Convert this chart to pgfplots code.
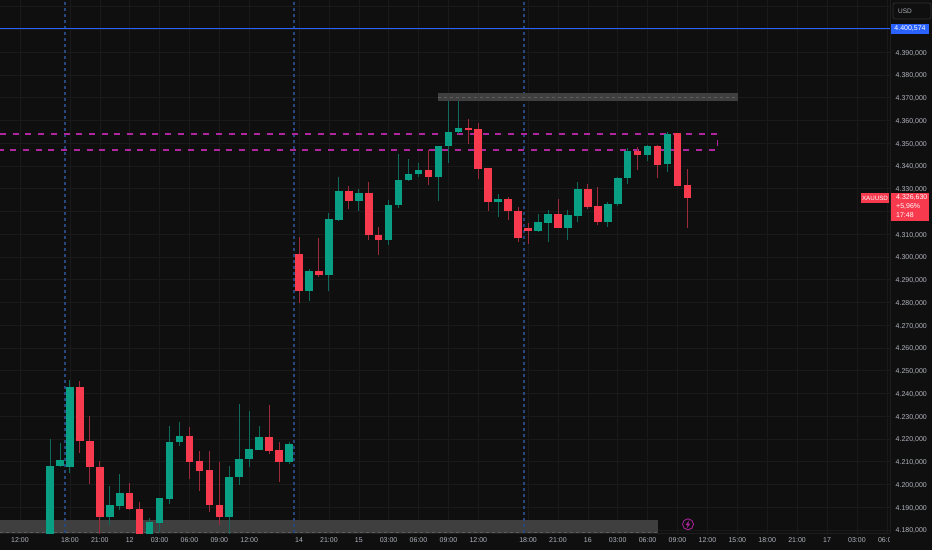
\documentclass[border=0pt]{standalone}
\usepackage{fontspec}
\setmainfont{Liberation Sans}
\usepackage{pgfplots}
\usepackage{pgfplotstable}
\pgfplotsset{compat=1.18}
\definecolor{bg}{HTML}{0F0F0F}
\definecolor{gridc}{HTML}{1A1A1A}
\definecolor{axc}{HTML}{1E1E1E}
\definecolor{tagb}{HTML}{303030}
\definecolor{lab}{HTML}{B2B5BE}
\definecolor{cg}{HTML}{089F85}
\definecolor{cr}{HTML}{F73A4E}
\definecolor{wg}{HTML}{0E6B5C}
\definecolor{wr}{HTML}{9C2A3A}
\definecolor{blue1}{HTML}{2962FF}
\definecolor{blued}{HTML}{26487F}
\definecolor{mag}{HTML}{B0269F}
\definecolor{boxc}{HTML}{3F3F3F}
\definecolor{boxd}{HTML}{5E5E5E}
\pgfplotstableread{
x high top bot low
50 4219.85 4208.28 4170 4165
59.96 4218.10 4210.62 4208.13 4207.55
69.92 4245.93 4243.00 4207.69 4204.91
109.76 4199.49 4191.00 4185.71 4182.20
119.72 4204.62 4196.41 4190.40 4188.79
149.6 4185.13 4183.52 4172 4171
159.56 4193.92 4193.92 4183.22 4179.12
169.52 4225.71 4218.83 4193.77 4191.43
179.48 4227.62 4221.32 4218.68 4216.92
229.28 4208.13 4203.30 4185.71 4176
239.24 4235.38 4211.36 4203.15 4199.78
249.2 4232.45 4215.46 4211.21 4207.55
259.16 4225.86 4220.73 4215.31 4215.17
289.04 4218.83 4217.95 4209.89 4209.01
308.96 4294.72 4293.84 4284.91 4280.66
328.88 4319.19 4316.55 4291.94 4284.91
338.84 4335.31 4329.15 4316.11 4315.82
358.76 4330.03 4328.13 4324.61 4320.36
388.64 4325.05 4322.85 4307.62 4305.13
398.6 4345.27 4333.84 4322.71 4321.54
408.56 4343.07 4336.48 4333.70 4333.55
418.52 4341.46 4338.09 4336.48 4335.31
438.44 4348.93 4348.93 4335.16 4324.61
448.4 4369.01 4354.94 4348.64 4341.17
458.36 4369.45 4356.70 4354.79 4353.91
498.2 4327.54 4325.34 4324.32 4317.72
538.04 4318.90 4315.38 4311.57 4311.13
548 4320.51 4318.90 4315.09 4306.59
567.92 4320.51 4318.46 4312.89 4307.47
577.88 4332.96 4330.03 4318.16 4315.23
607.76 4324.17 4323.29 4315.23 4313.33
617.72 4335.31 4334.72 4323.44 4322.56
627.68 4347.76 4346.59 4334.57 4332.23
647.6 4349.08 4348.79 4344.83 4342.19
667.52 4354.79 4354.21 4340.73 4337.36
}\greentab
\pgfplotstableread{
x high top bot low
79.88 4245.49 4243.00 4218.97 4213.70
89.84 4230.11 4219.12 4207.69 4200.37
99.8 4210.33 4207.69 4185.71 4175
129.68 4200.66 4196.41 4189.09 4188.79
139.64 4192.31 4189.09 4172 4171
189.44 4225.13 4221.32 4210.04 4202.27
199.4 4214.73 4210.19 4205.94 4197.00
209.36 4214.73 4206.37 4191.00 4187.91
219.32 4209.74 4191.14 4185.71 4182.20
269.12 4234.95 4220.73 4214.87 4213.41
279.08 4218.83 4215.02 4210.04 4201.10
299 4308.64 4301.17 4284.91 4279.92
318.92 4308.20 4293.70 4291.94 4291.35
348.8 4331.21 4329.15 4324.61 4320.95
368.72 4332.82 4328.13 4309.52 4307.47
378.68 4313.04 4309.81 4307.62 4300.73
428.48 4347.03 4338.09 4335.16 4331.64
468.32 4360.65 4356.70 4355.82 4349.52
478.28 4358.75 4356.11 4338.82 4334.43
488.24 4338.97 4338.97 4324.32 4320.07
508.16 4326.37 4325.34 4320.07 4316.41
518.12 4321.83 4320.36 4308.20 4306.44
528.08 4315.09 4312.60 4311.57 4305.86
557.96 4325.49 4318.90 4312.89 4312.60
587.84 4331.94 4330.03 4321.97 4320.95
597.8 4330.62 4322.27 4315.23 4314.21
637.64 4348.35 4346.59 4344.83 4338.24
657.56 4349.37 4348.79 4340.44 4334.87
677.48 4354.36 4354.36 4331.20 4331.20
687.44 4338.68 4331.50 4326.08 4312.89
}\redtab
\begin{document}
\begin{tikzpicture}[font=\fontsize{7}{8.5}\selectfont]
\useasboundingbox (0,0) rectangle (932pt,550pt);
\fill[bg] (0,0) rectangle (932pt,550pt);
\begin{axis}[
  at={(0pt,17pt)}, anchor=south west,
  scale only axis, width=890pt, height=533pt,
  xmin=0, xmax=890, ymin=4178.68, ymax=4412.97,
  axis lines=box, axis line style={draw=axc, line width=0.6pt},
  axis x line*=bottom, axis y line*=right,
  yticklabel pos=right,
  tick style={draw=none},
  major tick length=0pt,
  grid=major, major grid style={draw=gridc, line width=0.6pt},
  xtick={20,69.9,99.8,129.7,159.6,189.4,219.3,249.2,299,328.9,358.8,388.6,418.5,448.4,478.3,528.1,558,587.8,617.7,647.6,677.5,707.4,737.3,767.2,797.1,827,856.9,886.8},
  xticklabels={12:00,18:00,21:00,12,03:00,06:00,09:00,12:00,14,21:00,15,03:00,06:00,09:00,12:00,18:00,21:00,16,03:00,06:00,09:00,12:00,15:00,18:00,21:00,17,03:00,06:00},
  ytick={4180,4190,4200,4210,4220,4230,4240,4250,4260,4270,4280,4290,4300,4310,4320,4330,4340,4350,4360,4370,4380,4390,4400,4410},
  yticklabels={{4.180,000},{4.190,000},{4.200,000},{4.210,000},{4.220,000},{4.230,000},{4.240,000},{4.250,000},{4.260,000},{4.270,000},{4.280,000},{4.290,000},{4.300,000},{4.310,000},{},{4.330,000},{4.340,000},{4.350,000},{4.360,000},{4.370,000},{4.380,000},{4.390,000},{},{}},
  ticklabel style={text=lab, font=\fontsize{7}{8.5}\selectfont},
  xticklabel style={inner sep=0pt, yshift=-4.5pt},
  yticklabel style={inner sep=0pt, anchor=west, xshift=5.5pt, yshift=-1pt},
]
% bottom zone
\addplot[fill=boxc, draw=none] coordinates {(0,4178.68) (658,4178.68) (658,4184.54) (0,4184.54)} --cycle;
\addplot[draw=boxd, dash pattern=on 3pt off 3pt, line width=0.5pt] coordinates {(0,4179.2) (658,4179.2)};
% session separators
\addplot[draw=blued, dash pattern=on 3pt off 3pt, line width=1.1pt] coordinates {(65,4178.68) (65,4412.97)};
\addplot[draw=blued, dash pattern=on 3pt off 3pt, line width=1.1pt] coordinates {(294,4178.68) (294,4412.97)};
\addplot[draw=blued, dash pattern=on 3pt off 3pt, line width=1.1pt] coordinates {(524,4178.68) (524,4412.97)};
% range lines
\addplot[draw=mag, dash pattern=on 6pt off 6.7pt, line width=1.1pt] coordinates {(0,4354.07) (717.7,4354.07) (717.7,4347.03) (0,4347.03)};
% price line
\addplot[draw=blue1, line width=1.3pt] coordinates {(0,4400.574) (890,4400.574)};
% wicks
\addplot[draw=none, mark=none, forget plot, error bars/.cd, y dir=plus, y explicit, error mark=none, error bar style={line width=0.9pt, color=wg}] table[x=x, y=low, y error expr=\thisrow{high}-\thisrow{low}] {\greentab};
\addplot[draw=none, mark=none, forget plot, error bars/.cd, y dir=plus, y explicit, error mark=none, error bar style={line width=0.9pt, color=wr}] table[x=x, y=low, y error expr=\thisrow{high}-\thisrow{low}] {\redtab};
% bodies
\addplot[draw=none, mark=none, forget plot, error bars/.cd, y dir=plus, y explicit, error mark=none, error bar style={line width=7.6pt, color=cg}] table[x=x, y=bot, y error expr=\thisrow{top}-\thisrow{bot}] {\greentab};
\addplot[draw=none, mark=none, forget plot, error bars/.cd, y dir=plus, y explicit, error mark=none, error bar style={line width=7.6pt, color=cr}] table[x=x, y=bot, y error expr=\thisrow{top}-\thisrow{bot}] {\redtab};
% top zone
\addplot[fill=boxc, draw=none] coordinates {(438,4368.71) (737.7,4368.71) (737.7,4372.08) (438,4372.08)} --cycle;
\addplot[draw=boxd, dash pattern=on 3pt off 3pt, line width=0.4pt] coordinates {(438,4370.4) (737.7,4370.4)};
\end{axis}
% masks: the plot pane cuts off the last labels
\fill[bg] (890.3pt,0) rectangle (932pt,17pt);
% tags
\fill[blue1] (891pt,516pt) rectangle (929pt,526pt);
\node[text=white, inner sep=0pt] at (910pt,521pt) {4.400,574};
\fill[cr] (891pt,329pt) rectangle (929pt,357pt);
\node[text=white, inner sep=0pt, anchor=west] at (896pt,352pt) {4.326,630};
\node[text=white, inner sep=0pt, anchor=west] at (896pt,343.5pt) {+5,96\%};
\node[text=white, inner sep=0pt, anchor=west] at (896pt,335pt) {17:48};
\fill[cr] (861pt,347pt) rectangle (889pt,357pt);
\node[text=white, inner sep=0pt, font=\fontsize{6.2}{7}\selectfont] at (875pt,352pt) {XAUUSD};
\draw[draw=tagb, rounded corners=2pt, line width=0.7pt] (893pt,531pt) rectangle (931pt,547pt);
\node[text=lab, inner sep=0pt, anchor=west, font=\fontsize{6.5}{8}\selectfont] at (898pt,539pt) {USD};
% lightning icon
\draw[draw=mag, line width=0.8pt] (688pt,25.7pt) circle (5.5pt);
\fill[mag] (689.5pt,30pt) -- (685.6pt,25pt) -- (687.8pt,25pt) -- (686.5pt,21.3pt) -- (690.4pt,26.5pt) -- (688.2pt,26.5pt) -- cycle;
\end{tikzpicture}
\end{document}
